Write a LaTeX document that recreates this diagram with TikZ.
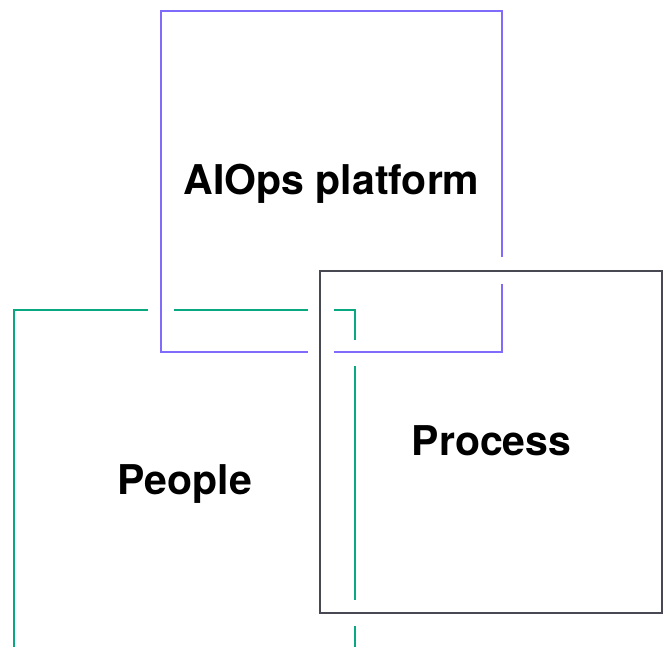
\documentclass[tikz,border=0pt]{standalone}
\usepackage{fontspec}
\setmainfont{TeX Gyre Heros}
\definecolor{purp}{RGB}{128,108,250}
\definecolor{grn}{RGB}{10,168,128}
\definecolor{gry}{RGB}{72,72,82}
\begin{document}
\begin{tikzpicture}[x=1pt,y=-1pt,
  edge/.style={line width=2pt},
  lbl/.style={font=\fontsize{41}{49}\selectfont\bfseries, anchor=base, inner sep=0pt}]
\useasboundingbox (0,0) rectangle (667,646);
% purple
\draw[edge,purp] (502,257) -- (502,11) -- (161,11) -- (161,352) -- (308,352);
\draw[edge,purp] (334,352) -- (502,352) -- (502,284);
% gray
\draw[edge,gry] (320,271) rectangle (662,613);
% green
\draw[edge,grn] (148,310) -- (14,310) -- (14,652);
\draw[edge,grn] (174,310) -- (308,310);
\draw[edge,grn] (334,310) -- (355,310) -- (355,340);
\draw[edge,grn] (355,366) -- (355,600);
\draw[edge,grn] (355,626) -- (355,652);
% labels
\node[lbl] (aiops) at (331.5,194) {AIOps platform};
\node[lbl] (process) at (491.5,455) {Process};
\node[lbl] (people) at (185,494) {People};
\end{tikzpicture}
\end{document}
